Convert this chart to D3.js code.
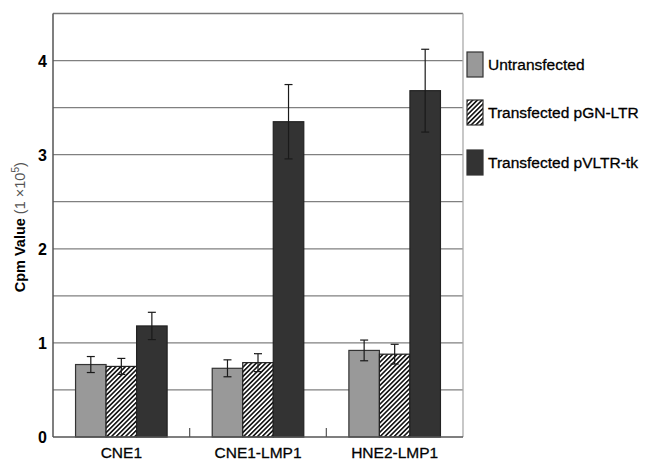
<!DOCTYPE html>
<html>
<head>
<meta charset="utf-8">
<script src="https://cdn.jsdelivr.net/npm/d3@7"></script>
<style>
  body { margin: 0; background: #fff; }
  text { font-family: "Liberation Sans", Arial, sans-serif; fill: #000; }
</style>
</head>
<body>
<div id="chart"></div>
<script>
const categories = ["CNE1", "CNE1-LMP1", "HNE2-LMP1"];
const seriesNames = ["Untransfected", "Transfected pGN-LTR", "Transfected pVLTR-tk"];
const untransfected = [0.77, 0.73, 0.92];
const pgnLtr = [0.75, 0.79, 0.88];
const pvltrTk = [1.18, 3.35, 3.68];
const errUntransfected = [0.085, 0.09, 0.11];
const errPgnLtr = [0.085, 0.095, 0.105];
const errPvltrTk = [0.145, 0.395, 0.44];
const yTicks = [0, 1, 2, 3, 4];
const gridTicks = [0.5, 1, 1.5, 2, 2.5, 3, 3.5, 4];

const width = 647, height = 462;
const plotLeft = 53, plotRight = 463, plotTop = 13.5, plotBottom = 437;

const series = [
  { name: seriesNames[0], values: untransfected, errs: errUntransfected, fill: "#999999", stroke: "#333" },
  { name: seriesNames[1], values: pgnLtr, errs: errPgnLtr, fill: "url(#hatch)", stroke: "#222" },
  { name: seriesNames[2], values: pvltrTk, errs: errPvltrTk, fill: "#333333", stroke: "#222" }
];

const svg = d3.select("#chart").append("svg")
    .attr("width", width)
    .attr("height", height);

const pat = svg.append("defs").append("pattern")
    .attr("id", "hatch")
    .attr("patternUnits", "userSpaceOnUse")
    .attr("width", 3.3).attr("height", 3.3)
    .attr("patternTransform", "rotate(45)");
pat.append("rect").attr("width", 3.3).attr("height", 3.3).attr("fill", "#fff");
pat.append("rect").attr("width", 1.6).attr("height", 3.3).attr("fill", "#111");

const x0 = d3.scaleBand().domain(categories).range([plotLeft, plotRight]).paddingInner(0.33).paddingOuter(0.165);
const x1 = d3.scaleBand().domain(seriesNames).range([0, x0.bandwidth()]);
const y = d3.scaleLinear().domain([0, 4.5]).range([plotBottom, plotTop]);

// gridlines
svg.append("g").selectAll("line").data(gridTicks).join("line")
    .attr("x1", plotLeft).attr("x2", plotRight)
    .attr("y1", d => y(d)).attr("y2", d => y(d))
    .attr("stroke", "#808080").attr("stroke-width", 1.3);

// frame
svg.append("line").attr("x1", plotLeft).attr("x2", plotRight).attr("y1", y(4.5)).attr("y2", y(4.5))
    .attr("stroke", "#777").attr("stroke-width", 1.5);
svg.append("line").attr("x1", plotRight).attr("x2", plotRight).attr("y1", y(4.5)).attr("y2", y(0))
    .attr("stroke", "#aaa").attr("stroke-width", 1.3);

// bars
const groups = svg.append("g").selectAll("g").data(categories).join("g")
    .attr("transform", d => `translate(${x0(d)},0)`);

series.forEach(s => {
  groups.append("rect")
      .attr("x", x1(s.name))
      .attr("width", x1.bandwidth())
      .attr("y", (d, i) => y(s.values[i]))
      .attr("height", (d, i) => y(0) - y(s.values[i]))
      .attr("fill", s.fill)
      .attr("stroke", s.stroke)
      .attr("stroke-width", 1.2);
});

// error bars
series.forEach(s => {
  const cx = x1(s.name) + x1.bandwidth() / 2;
  const eb = groups.append("g").attr("stroke", "#1a1a1a").attr("stroke-width", 1.2);
  eb.append("line")
      .attr("x1", cx).attr("x2", cx)
      .attr("y1", (d, i) => y(s.values[i] + s.errs[i]))
      .attr("y2", (d, i) => y(s.values[i] - s.errs[i]));
  eb.append("line")
      .attr("x1", cx - 4).attr("x2", cx + 4)
      .attr("y1", (d, i) => y(s.values[i] + s.errs[i]))
      .attr("y2", (d, i) => y(s.values[i] + s.errs[i]));
  eb.append("line")
      .attr("x1", cx - 4).attr("x2", cx + 4)
      .attr("y1", (d, i) => y(s.values[i] - s.errs[i]))
      .attr("y2", (d, i) => y(s.values[i] - s.errs[i]));
});

// y axis
const yAxis = svg.append("g")
    .attr("transform", `translate(${plotLeft},0)`)
    .call(d3.axisLeft(y).tickValues(yTicks).tickSize(0).tickPadding(6).tickFormat(d3.format("d")));
yAxis.select(".domain").remove();
yAxis.selectAll("text")
    .style("font-size", "16px").style("font-weight", "bold")
    .attr("fill", "#111").attr("dy", "0.36em");
svg.append("line").attr("x1", plotLeft).attr("x2", plotLeft).attr("y1", y(4.5)).attr("y2", y(0))
    .attr("stroke", "#555").attr("stroke-width", 1.5);

// x axis
const xAxis = svg.append("g")
    .attr("transform", `translate(0,${plotBottom})`)
    .call(d3.axisBottom(x0).tickSize(0).tickPadding(10));
xAxis.select(".domain").remove();
xAxis.selectAll("text").style("font-size", "15.5px")
    .attr("fill", "#111").attr("stroke", "#111").attr("stroke-width", 0.3);
svg.append("line").attr("x1", plotLeft).attr("x2", plotRight).attr("y1", plotBottom).attr("y2", plotBottom)
    .attr("stroke", "#555").attr("stroke-width", 1.5);
// group separators
const step = x0.step();
svg.append("g").selectAll("line").data(categories.slice(1)).join("line")
    .attr("x1", d => x0(d) - step * 0.33 / 2).attr("x2", d => x0(d) - step * 0.33 / 2)
    .attr("y1", plotBottom).attr("y2", plotBottom - 9)
    .attr("stroke", "#555").attr("stroke-width", 1.2);

// y title
const yt = svg.append("text")
    .attr("transform", `translate(25,${(plotTop + plotBottom) / 2 + 2}) rotate(-90)`)
    .attr("text-anchor", "middle")
    .style("font-size", "14.5px");
yt.append("tspan").style("font-weight", "bold").text("Cpm Value ");
yt.append("tspan").attr("fill", "#555").text("(1 \u00d710");
yt.append("tspan").attr("fill", "#555").attr("dy", -6).style("font-size", "10px").text("5");
yt.append("tspan").attr("fill", "#555").attr("dy", 6).text(")");

// legend
const legend = svg.append("g").selectAll("g").data(series).join("g")
    .attr("transform", (d, i) => `translate(467,${[52, 100, 150][i]})`);
legend.append("rect")
    .attr("width", 16).attr("height", 25)
    .attr("fill", d => d.fill).attr("stroke", "#333").attr("stroke-width", 1.2);
legend.append("text")
    .attr("x", 21).attr("y", 18)
    .style("font-size", "15.5px")
    .attr("stroke", "#000").attr("stroke-width", 0.3)
    .text(d => d.name);
</script>
</body>
</html>
